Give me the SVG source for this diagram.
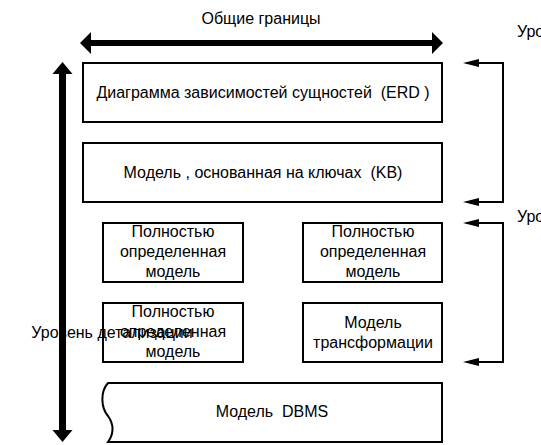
<svg xmlns="http://www.w3.org/2000/svg" width="541" height="445" viewBox="0 0 541 445">
<style>
text{font-family:"Liberation Sans",Arial,sans-serif;font-size:16px;fill:#000;text-anchor:middle}
.lbl{text-anchor:start}
.box{fill:none;stroke:#000;stroke-width:2}
.br{fill:none;stroke:#000;stroke-width:2}
.ah{fill:#000;stroke:none}
</style>
<rect width="541" height="445" fill="#fff"/>
<g id="labels">
<text x="261" y="24">Общие границы</text>
<text x="112" y="338">Уровень детализации</text>
<text class="lbl" x="517" y="37">Уро</text>
<text class="lbl" x="517" y="222">Уро</text>
</g>
<g id="erd"><rect class="box" x="83" y="63" width="359" height="59"/><text x="263" y="98" xml:space="preserve">Диаграмма зависимостей сущностей  (ERD )</text></g>
<g id="kb"><rect class="box" x="83" y="143" width="359" height="59"/><text x="263" y="178" xml:space="preserve">Модель , основанная на ключах  (KB)</text></g>
<g id="full1"><rect class="box" x="103" y="223" width="140" height="59"/><text x="173" y="237">Полностью</text><text x="173" y="257">определенная</text><text x="173" y="277">модель</text></g>
<g id="full2"><rect class="box" x="303" y="223" width="139" height="59"/><text x="373" y="237">Полностью</text><text x="373" y="257">определенная</text><text x="373" y="277">модель</text></g>
<g id="full3"><rect class="box" x="103" y="303" width="140" height="59"/><text x="173" y="317">Полностью</text><text x="173" y="337">определенная</text><text x="173" y="357">модель</text></g>
<g id="transform"><rect class="box" x="303" y="303" width="139" height="59"/><text x="373" y="328">Модель</text><text x="373" y="348">трансформации</text></g>
<g id="dbms"><path class="box" d="M108,383 H442 V442 H108 C114,434 114,424 108,416 C101,408 100,392 108,383 Z"/><text x="272" y="417" xml:space="preserve">Модель  DBMS</text></g>
<g id="connectors">
<rect x="91" y="40" width="341" height="6" fill="#000"/>
<polygon class="ah" points="80,43 91,32 91,54"/>
<polygon class="ah" points="443,43 432,32 432,54"/>
<rect x="59" y="73" width="7" height="358" fill="#000"/>
<polygon class="ah" points="62.5,62 52.5,74 72.5,74"/>
<polygon class="ah" points="62.5,442 52.5,430 72.5,430"/>
<polyline class="br" points="470,63 503,63 503,202 470,202"/>
<polyline class="br" points="470,223 503,223 503,362 470,362"/>
<polygon class="ah" points="463,63 479,59 479,67"/>
<polygon class="ah" points="463,202 479,198 479,206"/>
<polygon class="ah" points="463,223 479,219 479,227"/>
<polygon class="ah" points="463,362 479,358 479,366"/>
</g>
</svg>
